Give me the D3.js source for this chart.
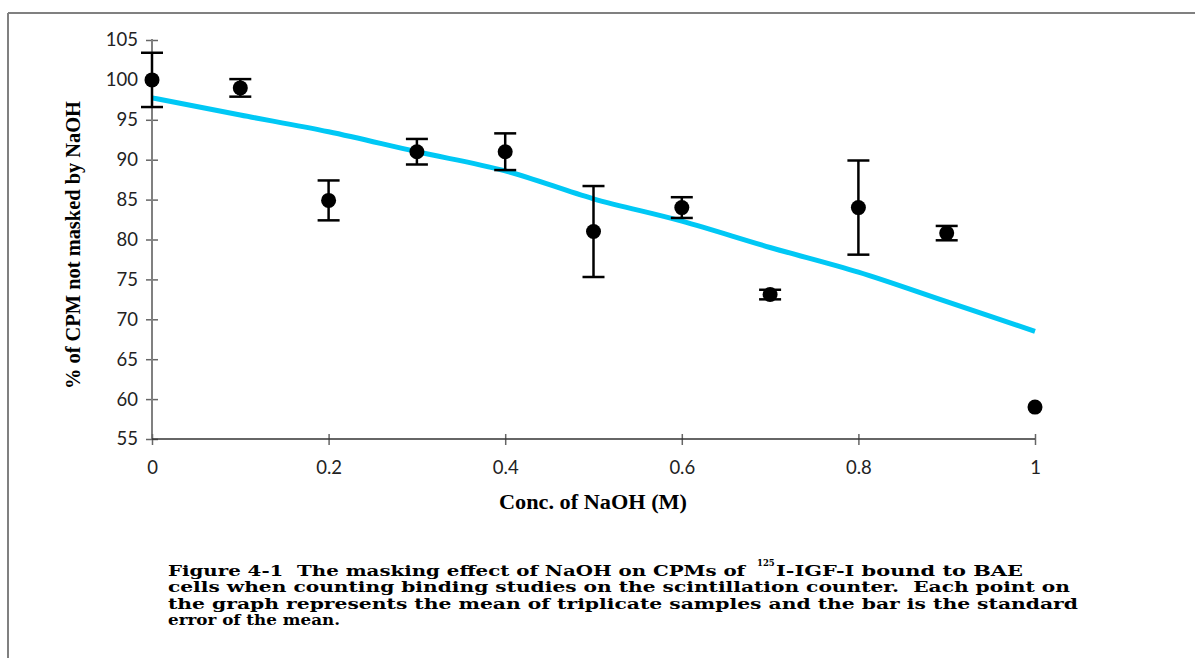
<!DOCTYPE html>
<html>
<head>
<meta charset="utf-8">
<script src="https://cdn.jsdelivr.net/npm/d3@7"></script>
<style>
  body { margin: 0; background: #fff; }
  svg { display: block; }
  .cap text { white-space: pre; }
</style>
</head>
<body>
<div id="chart"></div>
<script>
// data
const conc = [0, 0.1, 0.2, 0.3, 0.4, 0.5, 0.6, 0.7, 0.8, 0.9, 1.0];
const meanPct = [100, 99, 84.9, 91, 91, 81, 84, 73.1, 84, 80.8, 59];
const sem = [3.4, 1.1, 2.5, 1.6, 2.3, 5.7, 1.3, 0.6, 5.9, 0.9, 0];
// trend line (cyan) values read at each x tick
const trendX = [0, 0.1, 0.2, 0.3, 0.4, 0.5, 0.6, 0.7, 0.8, 0.9, 1.0];
const trendY = [97.75, 95.6, 93.5, 91.0, 88.6, 85.1, 82.3, 79.0, 75.9, 72.2, 68.5];
const yTicks = [55, 60, 65, 70, 75, 80, 85, 90, 95, 100, 105];
const xTicks = [0, 0.2, 0.4, 0.6, 0.8, 1];
const captionLines = [
  "Figure 4-1  The masking effect of NaOH on CPMs of ",
  "cells when counting binding studies on the scintillation counter.  Each point on",
  "the graph represents the mean of triplicate samples and the bar is the standard",
  "error of the mean."
];

const W = 1195, H = 658;
const svg = d3.select("#chart").append("svg")
    .attr("width", W)
    .attr("height", H);

// frame
svg.append("line").attr("x1", 8).attr("x2", W).attr("y1", 13).attr("y2", 13)
    .attr("stroke", "#808080").attr("stroke-width", 2);
svg.append("line").attr("x1", 8).attr("x2", 8).attr("y1", 13).attr("y2", H)
    .attr("stroke", "#808080").attr("stroke-width", 2);

const x = d3.scaleLinear().domain([0, 1]).range([152, 1035]);
const y = d3.scaleLinear().domain([55, 105]).range([439, 40]);

// y axis
const yAxis = svg.append("g").attr("transform", "translate(152,0)")
    .call(d3.axisLeft(y).tickValues(yTicks).tickSize(5).tickPadding(9));
yAxis.select(".domain").remove();
yAxis.append("line").attr("y1", y(105) - 1).attr("y2", y(55)).attr("stroke", "#808080").attr("stroke-width", 2);
yAxis.selectAll(".tick line").attr("x1", -6).attr("x2", 6).attr("stroke", "#666").attr("stroke-width", 1.5);
yAxis.selectAll(".tick text")
    .attr("font-family", "Lato, 'Open Sans', sans-serif")
    .attr("font-size", 18.5).attr("fill", "#222").attr("x", -14);

// x axis
const xAxis = svg.append("g").attr("transform", "translate(0," + y(55) + ")")
    .call(d3.axisBottom(x).tickValues(xTicks).tickFormat(d3.format("")).tickSize(6).tickPadding(16));
xAxis.select(".domain").remove();
xAxis.append("line").attr("x1", x(0)).attr("x2", x(1)).attr("stroke", "#333").attr("stroke-width", 1.5);
xAxis.selectAll(".tick line").attr("y1", -5).attr("y2", 6).attr("stroke", "#666").attr("stroke-width", 1.5);
xAxis.selectAll(".tick text")
    .attr("font-family", "Lato, 'Open Sans', sans-serif")
    .attr("font-size", 18.5).attr("fill", "#222");

// trend line
const trend = trendX.map((d, i) => [d, trendY[i]]);
svg.append("path").datum(trend)
    .attr("fill", "none")
    .attr("stroke", "#00c8f5")
    .attr("stroke-width", 5)
    .attr("d", d3.line().x(d => x(d[0])).y(d => y(d[1])).curve(d3.curveMonotoneX));

// error bars
const pts = conc.map((c, i) => ({ c: c, m: meanPct[i], e: sem[i] }));
const eb = svg.append("g").attr("stroke", "#000").attr("stroke-width", 2.5);
pts.filter(d => d.e > 0).forEach(d => {
  eb.append("line").attr("x1", x(d.c)).attr("x2", x(d.c)).attr("y1", y(d.m + d.e)).attr("y2", y(d.m - d.e));
  eb.append("line").attr("x1", x(d.c) - 11).attr("x2", x(d.c) + 11).attr("y1", y(d.m + d.e)).attr("y2", y(d.m + d.e));
  eb.append("line").attr("x1", x(d.c) - 11).attr("x2", x(d.c) + 11).attr("y1", y(d.m - d.e)).attr("y2", y(d.m - d.e));
});

svg.append("g").selectAll("circle").data(pts).join("circle")
    .attr("cx", d => x(d.c)).attr("cy", d => y(d.m)).attr("r", 7.5).attr("fill", "#000");

// axis titles
svg.append("text")
    .attr("transform", "translate(80,245) rotate(-90)")
    .attr("text-anchor", "middle")
    .attr("font-family", "'Liberation Serif', 'Times New Roman', serif")
    .attr("font-weight", "bold").attr("font-size", 20)
    .attr("textLength", 288).attr("lengthAdjust", "spacingAndGlyphs")
    .text("% of CPM not masked by NaOH");

svg.append("text")
    .attr("x", 593).attr("y", 509)
    .attr("text-anchor", "middle")
    .attr("font-family", "'Liberation Serif', 'Times New Roman', serif")
    .attr("font-weight", "bold").attr("font-size", 20)
    .attr("textLength", 188).attr("lengthAdjust", "spacingAndGlyphs")
    .text("Conc. of NaOH (M)");

// caption
const cap = svg.append("g").attr("class", "cap")
    .attr("font-family", "'DejaVu Serif', Georgia, serif")
    .attr("font-weight", "bold").attr("font-size", 15).attr("fill", "#000");
const capW = [584, 902, 910, 172];
const capY = [576, 592, 609, 625];
captionLines.forEach((t, i) => {
  cap.append("text").attr("x", 168).attr("y", capY[i])
      .attr("textLength", capW[i]).attr("lengthAdjust", "spacingAndGlyphs")
      .text(t);
});
cap.append("text").attr("x", 757).attr("y", 566).attr("font-size", 8.5).text("125");
cap.append("text").attr("x", 776).attr("y", capY[0])
    .attr("textLength", 247).attr("lengthAdjust", "spacingAndGlyphs")
    .text("I-IGF-I bound to BAE");
</script>
</body>
</html>
